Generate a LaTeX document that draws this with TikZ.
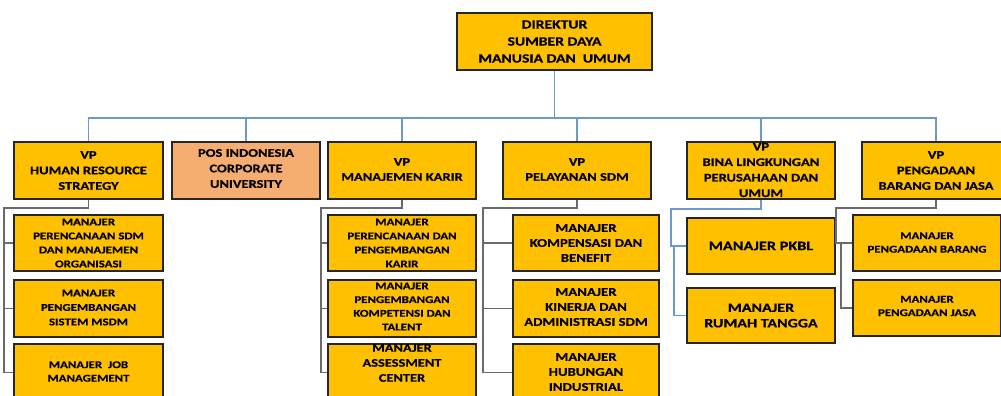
\documentclass[tikz,border=0pt]{standalone}
\usepackage{fontspec}
\setmainfont{Carlito}[FakeStretch=1.25, BoldFeatures={FakeBold=0.6}]
\definecolor{gold}{HTML}{FFC000}
\definecolor{salmon}{HTML}{F5AD72}
\definecolor{bline}{HTML}{6C98D0}
\definecolor{gline}{HTML}{6A6A6A}
\definecolor{edge}{HTML}{262626}
\tikzset{
  box/.style={draw=edge, line width=1.3pt, fill=gold, inner sep=0pt, minimum width=148pt, minimum height=57pt},
  tx/.style 2 args={align=center, inner sep=0pt, text=black, font=\bfseries\fontsize{#1}{#2}\selectfont},
  bl/.style={draw=bline, line width=1.8pt},
  gr/.style={draw=gline, line width=1.8pt},
}
\begin{document}
\begin{tikzpicture}[x=1pt,y=-1pt]
\clip (0,0) rectangle (1001,396);
\fill[white] (0,0) rectangle (1001,396);
% boxes
\node[box, minimum width=195pt] (dir) at (554.5,41.5) {};
\node[box, minimum width=149pt] (vp1) at (88.5,170.5) {};
\node[box, fill=salmon] (pos) at (246,170.5) {};
\node[box] (vp2) at (402,170.5) {};
\node[box] (vp3) at (577,170.5) {};
\node[box] (vp4) at (761,170.5) {};
\node[box] (vp5) at (936,170.5) {};
\node[box, minimum width=149pt, minimum height=56pt] (h1) at (88.5,243) {};
\node[box, minimum width=149pt] (h2) at (88.5,308.5) {};
\node[box, minimum width=149pt] (h3) at (88.5,372.5) {};
\node[box, minimum height=56pt] (m1) at (402,243) {};
\node[box] (m2) at (402,308.5) {};
\node[box] (m3) at (402,372.5) {};
\node[box, minimum width=146pt, minimum height=56pt] (p1) at (586,243) {};
\node[box, minimum width=146pt] (p2) at (586,308.5) {};
\node[box, minimum width=146pt] (p3) at (586,372.5) {};
\node[box, minimum height=56pt] (b1) at (761,246) {};
\node[box, minimum height=55pt] (b2) at (761,315.5) {};
\node[box, minimum height=56pt] (g1) at (927,243) {};
\node[box, minimum height=56pt] (g2) at (927,308) {};
% top connectors
\foreach \v in {vp1,pos,vp2,vp3,vp4,vp5}
  \draw[bl] (dir.south) -- ++(0,47.5) -| (\v.north);
% HRS
\draw[gr] (vp1.south) -- ++(0,8) -| ([xshift=-9pt]h3.west) -- (h3.west);
\draw[gr] ([xshift=-9pt]h1.west) -- (h1.west);
\draw[gr] ([xshift=-9pt]h2.west) -- (h2.west);
% MK
\draw[gr] (vp2.south) -- ++(0,8) -| ([xshift=-6pt]m3.west) -- (m3.west);
\draw[gr] ([xshift=-6pt]m1.west) -- (m1.west);
\draw[gr] ([xshift=-6pt]m2.west) -- (m2.west);
% PS
\draw[gr] (vp3.south) -- ++(0,8) -| ([xshift=-29pt]p3.west) -- (p3.west);
\draw[gr] ([xshift=-29pt]p1.west) -- (p1.west);
\draw[gr] ([xshift=-29pt]p2.west) -- (p2.west);
% Bina
\draw[bl] (vp4.south) -- ++(0,9) -| ([xshift=-15pt]b1.west) -- (b1.west);
\draw[bl] ([xshift=-12pt]b1.west) |- (b2.west);
% Pengadaan
\draw[gr] (vp5.south) -- ++(0,8) -| ([xshift=-16pt]g1.west) -- (g1.west);
\draw[gr] ([xshift=-11pt]g1.west) |- (g2.west);
% texts
\node[tx={12.5}{17}] (tdir) at (554.5,41.5) {DIREKTUR\\SUMBER DAYA\\MANUSIA DAN~~UMUM};
\node[tx={11.6}{15.5}] (tvp1) at (88.5,170.5) {VP\\HUMAN RESOURCE\\STRATEGY};
\node[tx={11.6}{15.5}] (tpos) at (246,168.5) {POS INDONESIA\\CORPORATE\\UNIVERSITY};
\node[tx={11.6}{15}] (tvp2) at (402,169.5) {VP\\MANAJEMEN KARIR};
\node[tx={11.6}{15}] (tvp3) at (577,169.5) {VP\\PELAYANAN SDM};
\node[tx={11.6}{15.5}] (tvp4) at (761,170) {VP\\BINA LINGKUNGAN\\PERUSAHAAN DAN\\UMUM};
\node[tx={11.6}{15.5}] (tvp5) at (936,170.5) {VP\\PENGADAAN\\BARANG DAN JASA};
\node[tx={10.3}{14}] (th1) at (88.5,243) {MANAJER\\PERENCANAAN SDM\\DAN MANAJEMEN\\ORGANISASI};
\node[tx={10.3}{14.5}] (th2) at (88.5,307.5) {MANAJER\\PENGEMBANGAN\\SISTEM MSDM};
\node[tx={10.3}{13.5}] (th3) at (88.5,371.5) {MANAJER~~JOB\\MANAGEMENT};
\node[tx={10.3}{14}] (tm1) at (402,243) {MANAJER\\PERENCANAAN DAN\\PENGEMBANGAN\\KARIR};
\node[tx={10.3}{13.7}] (tm2) at (402,306.5) {MANAJER\\PENGEMBANGAN\\KOMPETENSI DAN\\TALENT};
\node[tx={11.5}{15}] (tm3) at (402,363) {MANAJER\\ASSESSMENT\\CENTER};
\node[tx={11.8}{15}] (tp1) at (586,243) {MANAJER\\KOMPENSASI DAN\\BENEFIT};
\node[tx={11.8}{15}] (tp2) at (586,307) {MANAJER\\KINERJA DAN\\ADMINISTRASI SDM};
\node[tx={11.8}{15}] (tp3) at (586,372) {MANAJER\\HUBUNGAN\\INDUSTRIAL};
\node[tx={13}{16}] (tb1) at (761,246) {MANAJER PKBL};
\node[tx={12.8}{15.5}] (tb2) at (761,315.5) {MANAJER\\RUMAH TANGGA};
\node[tx={10.3}{13.5}] (tg1) at (927,242.5) {MANAJER\\PENGADAAN BARANG};
\node[tx={10.3}{13.5}] (tg2) at (927,306) {MANAJER\\PENGADAAN JASA};
\end{tikzpicture}
\end{document}
